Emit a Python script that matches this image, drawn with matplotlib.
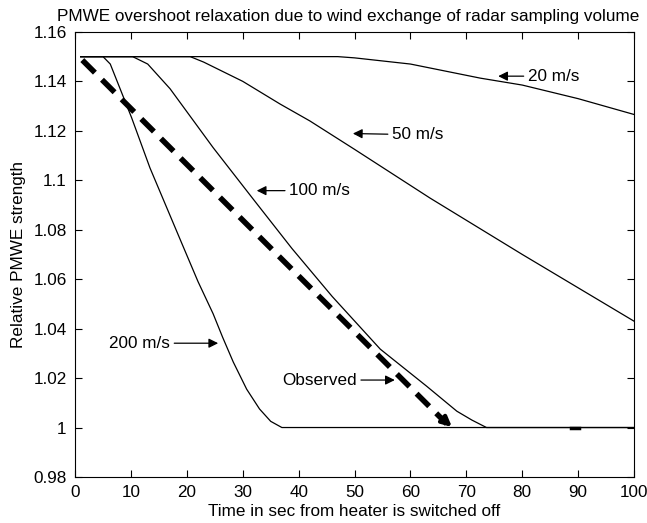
import matplotlib
matplotlib.use("Agg")
import matplotlib.pyplot as plt
from matplotlib.ticker import FormatStrFormatter

plt.rcParams["font.family"] = ["Liberation Sans", "DejaVu Sans"]
plt.rcParams["font.size"] = 12.3

# model curves: time (s) and relative PMWE strength
t_20 = [1, 47, 50, 60, 72.5, 80, 90, 100]
y_20 = [1.15, 1.15, 1.1495, 1.147, 1.1413, 1.1385, 1.133, 1.1266]
t_50 = [1, 20.6, 23, 30, 36.7, 42, 50, 63.5, 80, 100]
y_50 = [1.15, 1.15, 1.1478, 1.140, 1.1308, 1.124, 1.1125, 1.0928, 1.070, 1.043]
t_100 = [1, 10.3, 13, 17, 24.7, 32, 38.8, 46, 54.6, 62.9, 68.3, 71, 73.6, 100]
y_100 = [1.15, 1.15, 1.147, 1.137, 1.1132, 1.092, 1.0724, 1.053, 1.0317, 1.0167,
         1.0066, 1.003, 1.0, 1.0]
t_200 = [1, 5, 6.3, 10.1, 13.4, 19, 22, 24.7, 26.4, 28.3, 30.7, 33, 35, 37, 100]
y_200 = [1.15, 1.15, 1.147, 1.1254, 1.105, 1.075, 1.059, 1.046, 1.0365, 1.0265,
         1.0155, 1.0075, 1.0025, 1.0, 1.0]
# observed relaxation
t_obs = [1.3, 66.5]
y_obs = [1.1486, 1.0015]
obs_tip = (67.8, 0.9995)

labels = ["20 m/s", "50 m/s", "100 m/s", "200 m/s", "Observed"]
label_tip = [(75.7, 1.1421), (49.7, 1.1189), (32.5, 1.0958), (25.6, 1.0341), (57.2, 1.0192)]
label_txt = [(81.0, 1.1421), (56.7, 1.1184), (38.3, 1.0958), (17.0, 1.0341), (50.4, 1.0192)]
label_ha = ["left", "left", "left", "right", "right"]

fig = plt.figure(figsize=(6.47, 5.23), dpi=100)
ax = fig.add_axes([0.116, 0.088, 0.864, 0.851])

for t, y in [(t_20, y_20), (t_50, y_50), (t_100, y_100), (t_200, y_200)]:
    ax.plot(t, y, color="black", lw=0.9)

ax.plot(t_obs, y_obs, color="black", lw=4, dashes=(3.2, 1.8))
ax.annotate("", xy=obs_tip, xytext=(t_obs[1] - 1.5, y_obs[1] + 0.0035),
            arrowprops=dict(arrowstyle="-|>", color="black", lw=3, mutation_scale=14))
ax.plot([88.8, 90.2], [0.9997, 0.9997], color="black", lw=2.5)

for lab, tip, txt, ha in zip(labels, label_tip, label_txt, label_ha):
    ax.annotate(lab, xy=tip, xytext=txt, ha=ha, va="center",
                arrowprops=dict(arrowstyle="-|>", color="black", lw=0.9,
                                mutation_scale=14, shrinkA=1, shrinkB=0))

ax.set_xlim(0, 100)
ax.set_ylim(0.98, 1.16)
ax.set_xticks(range(0, 101, 10))
ax.set_yticks([0.98, 1.0, 1.02, 1.04, 1.06, 1.08, 1.1, 1.12, 1.14, 1.16])
ax.yaxis.set_major_formatter(FormatStrFormatter("%g"))
ax.tick_params(direction="in", top=True, right=True, length=5, width=0.8, pad=6)
for s in ax.spines.values():
    s.set_linewidth(0.8)
ax.set_xlabel("Time in sec from heater is switched off", labelpad=3)
ax.set_ylabel("Relative PMWE strength", labelpad=5)
ax.set_title("PMWE overshoot relaxation due to wind exchange of radar sampling volume",
             fontsize=12.3, pad=8, x=0.488)

fig.savefig("out.png", dpi=100)
